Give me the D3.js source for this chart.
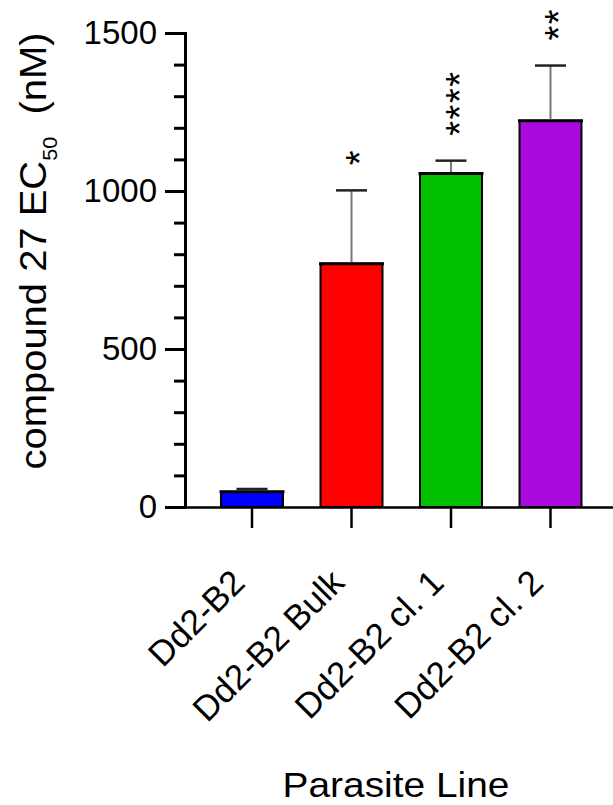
<!DOCTYPE html>
<html lang="en">
<head>
    <meta charset="UTF-8">
    <script src="https://cdn.jsdelivr.net/npm/d3@7"></script>
    <style>
        body{ margin:0; background:#fff; }
        text{ font-family:"Liberation Sans", Arial, sans-serif; fill:#000; }
    </style>
    <title>EC50 bars</title>
</head>
<body>
    <svg width="613" height="805"></svg>
    <script>
        // data
        var lines = ["Dd2-B2", "Dd2-B2 Bulk", "Dd2-B2 cl. 1", "Dd2-B2 cl. 2"];
        var ec50 = [48, 770, 1055, 1222];
        var sd = [9, 232, 41, 175];
        var stars = ["", "*", "****", "**"];
        var colors = ["#0000ff", "#ff0000", "#00c000", "#aa0add"];
        var majorTicks = [0, 500, 1000, 1500];

        var svg = d3.select("svg");
        var y = d3.scaleLinear().domain([0, 1500]).range([507, 33]);
        var x = d3.scaleBand().domain(lines).range([185, 617.5])
            .paddingInner(0.377).paddingOuter(0.362);

        var data = lines.map(function(d, i){
            return {name:d, v:ec50[i], e:sd[i], s:stars[i], c:colors[i]};
        });

        // bars
        var bars = svg.append("g");
        bars.selectAll("rect").data(data).enter().append("rect")
            .attr("x", function(d){ return x(d.name); })
            .attr("y", function(d){ return y(d.v); })
            .attr("width", x.bandwidth())
            .attr("height", function(d){ return y(0) - y(d.v); })
            .attr("fill", function(d){ return d.c; })
            .attr("stroke", "#000").attr("stroke-width", 2);
        // thicker top edge
        bars.selectAll("line.top").data(data).enter().append("line")
            .attr("class", "top")
            .attr("x1", function(d){ return x(d.name) - 1.5; })
            .attr("x2", function(d){ return x(d.name) + x.bandwidth() + 1.5; })
            .attr("y1", function(d){ return y(d.v); })
            .attr("y2", function(d){ return y(d.v); })
            .attr("stroke", "#000").attr("stroke-width", 3);

        // error bars (upper only)
        var cx = function(d){ return x(d.name) + x.bandwidth() / 2; };
        var err = svg.append("g");
        err.selectAll("line.stem").data(data).enter().append("line")
            .attr("x1", cx).attr("x2", cx)
            .attr("y1", function(d){ return y(d.v) - 1.5; })
            .attr("y2", function(d){ return y(d.v + d.e); })
            .attr("stroke", "#777").attr("stroke-width", 2);
        err.selectAll("line.cap").data(data).enter().append("line")
            .attr("x1", function(d){ return cx(d) - x.bandwidth() / 4; })
            .attr("x2", function(d){ return cx(d) + x.bandwidth() / 4; })
            .attr("y1", function(d){ return y(d.v + d.e); })
            .attr("y2", function(d){ return y(d.v + d.e); })
            .attr("stroke", "#222").attr("stroke-width", 2.5);

        // significance stars, written sideways
        var fsStar = 38;
        svg.append("g").selectAll("text").data(data).enter().append("text")
            .attr("transform", function(d){
                return "translate(" + (cx(d) + 0.57 * fsStar) + "," + (y(d.v + d.e) - 25) + ") rotate(-90)";
            })
            .attr("font-size", fsStar)
            .attr("letter-spacing", 1.5)
            .text(function(d){ return d.s; });

        // y axis
        var yAxis = svg.append("g").attr("transform", "translate(185,0)")
            .call(d3.axisLeft(y).tickValues(majorTicks).tickSize(20).tickPadding(8).tickFormat(d3.format("d")));
        yAxis.select(".domain").attr("stroke-width", 3);
        yAxis.selectAll(".tick line").attr("stroke-width", 3);
        yAxis.selectAll(".tick text").attr("font-size", 33)
            .attr("font-family", "Liberation Sans, Arial, sans-serif").attr("fill", "#000");
        var yMinor = svg.append("g").attr("transform", "translate(185,0)")
            .call(d3.axisLeft(y).tickValues(d3.range(0, 1501, 100).filter(function(v){
                return majorTicks.indexOf(v) < 0;
            })).tickSize(11).tickFormat(""));
        yMinor.select(".domain").remove();
        yMinor.selectAll(".tick line").attr("stroke-width", 3);

        // x axis
        var xAxis = svg.append("g").attr("transform", "translate(0,507)")
            .call(d3.axisBottom(x).tickSize(21).tickSizeOuter(0).tickFormat(""));
        xAxis.select(".domain").attr("stroke-width", 2.5);
        xAxis.selectAll(".tick line").attr("stroke-width", 2.5);

        var fsX = 35;
        svg.append("g").selectAll("text").data(lines).enter().append("text")
            .attr("transform", function(d){
                return "translate(" + (x(d) + x.bandwidth() / 2 - 14) + ",576) rotate(-45)";
            })
            .attr("text-anchor", "end")
            .attr("dy", "0.35em")
            .attr("font-size", fsX)
            .text(function(d){ return d; });

        // axis titles
        var yTitle = svg.append("text")
            .attr("transform", "translate(46,251) rotate(-90) scale(1.08,1)")
            .attr("text-anchor", "middle")
            .attr("font-size", 37);
        yTitle.append("tspan").text("compound 27 EC");
        yTitle.append("tspan").attr("font-size", 20).attr("dy", 11).text("50");
        yTitle.append("tspan").attr("dy", -11).text("  (nM)").attr("xml:space", "preserve");

        svg.append("text")
            .attr("transform", "translate(396,797) scale(1.08,1)")
            .attr("text-anchor", "middle")
            .attr("font-size", 36)
            .text("Parasite Line");
    </script>
</body>
</html>
